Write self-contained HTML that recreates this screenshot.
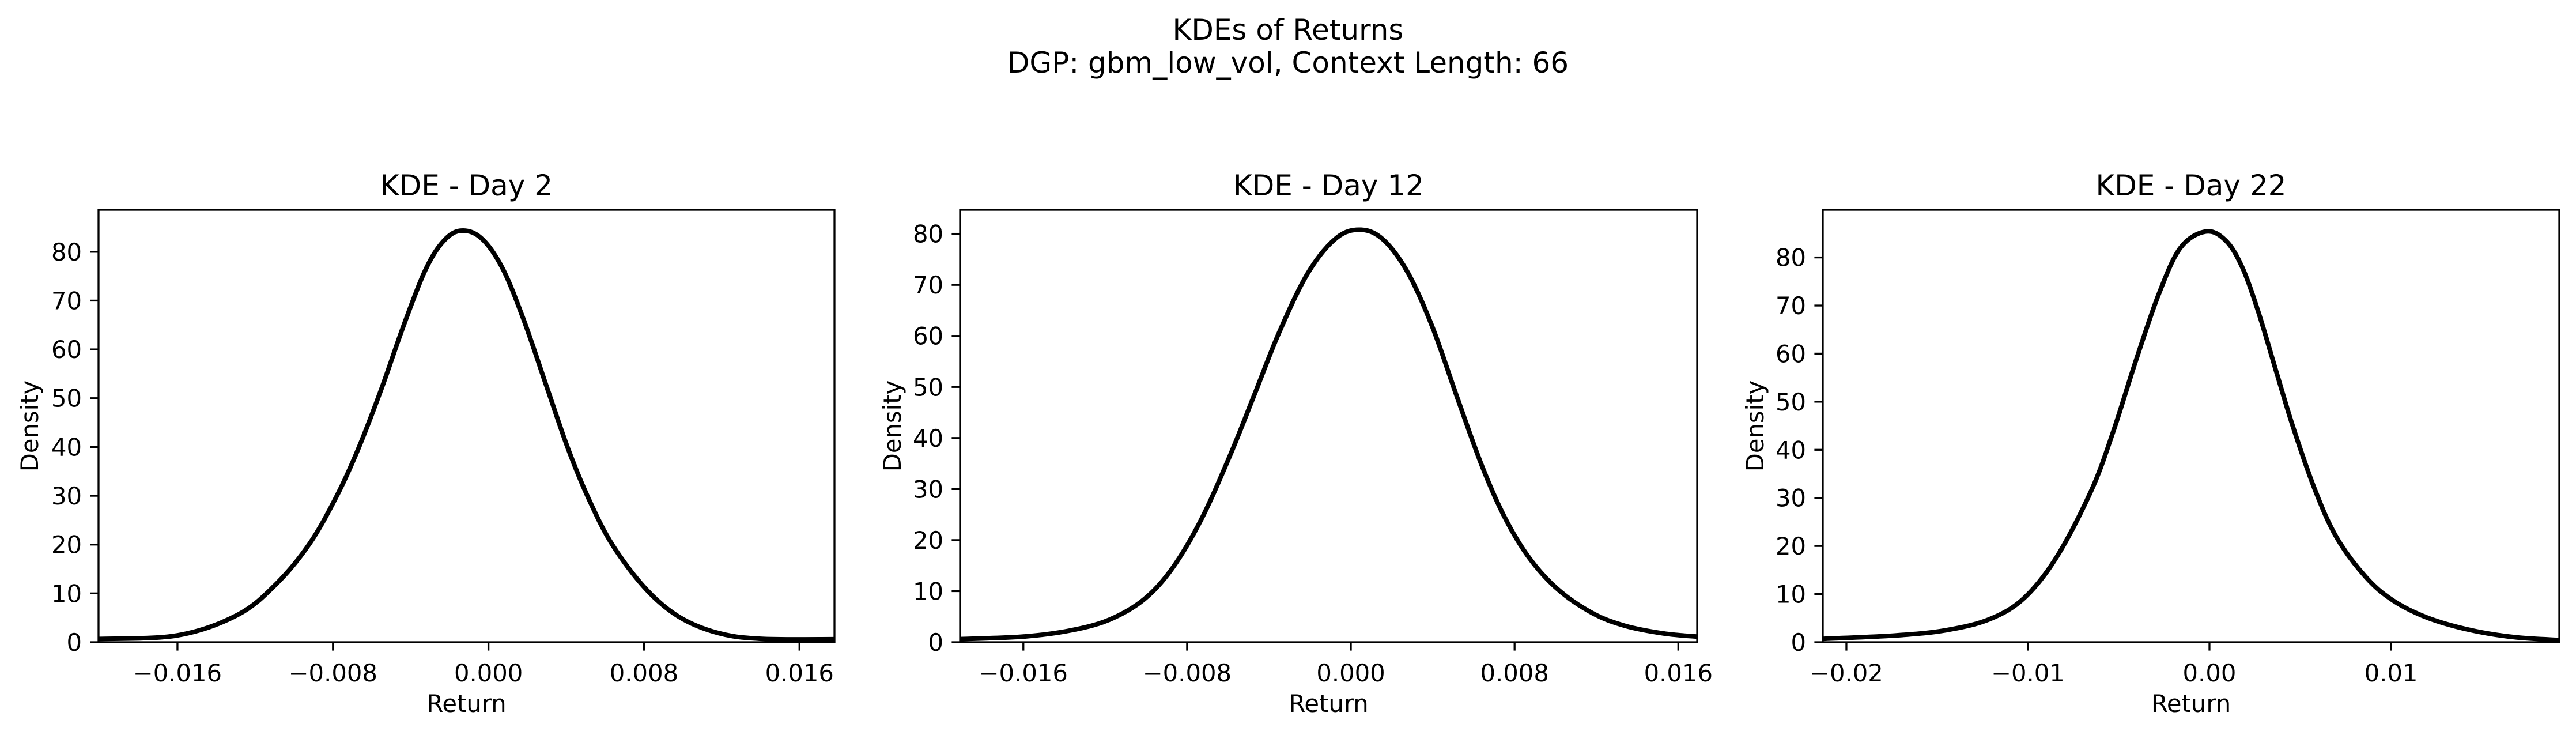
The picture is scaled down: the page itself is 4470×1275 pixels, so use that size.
<!DOCTYPE html>
<html><head><meta charset="utf-8"><style>
html,body{margin:0;padding:0;background:#fff;}
svg{display:block;font-family:"DejaVu Sans","Liberation Sans",sans-serif;}
</style></head><body>
<svg id="fig" width="4470" height="1275" viewBox="0 0 4470 1275" xmlns="http://www.w3.org/2000/svg">
<rect width="4470" height="1275" fill="#fff"/>
<text x="2235" y="69" font-size="50" text-anchor="middle">KDEs of Returns</text>
<text x="2235" y="126" font-size="50" text-anchor="middle">DGP: gbm_low_vol, Context Length: 66</text>
</svg>
<script>
const day2X=[-0.02006,-0.016,-0.0129,-0.0109,-0.0092,-0.0078,-0.0067,-0.0055,-0.0044,-0.0033,-0.0024,-0.00148,-0.0004,0.0007,0.0018,0.003,0.0041,0.0052,0.0064,0.0081,0.0098,0.0118,0.014,0.0178];
const day2Y=[0.66,1.4,5.6,12.0,20.2,30.0,39.6,52,64.5,75.8,81.8,84.3,82.9,76.8,66.2,52.3,39.6,29.0,19.8,10.9,5.2,1.9,0.7,0.6];
const day12X=[-0.0191,-0.016,-0.0137,-0.0118,-0.0101,-0.0087,-0.0073,-0.0059,-0.0047,-0.0035,-0.0021,-0.0007,0.0005,0.0016,0.0028,0.004,0.0052,0.0064,0.0075,0.0087,0.0101,0.0118,0.0134,0.0153,0.0169];
const day12Y=[0.6,1.1,2.3,4.4,8.4,14.6,24.1,36.6,48.6,60.7,72.3,79.2,80.8,78.8,72.3,61.6,47.9,34.6,24.6,16.6,10.4,5.7,3.2,1.7,1.1];
const day22X=[-0.0213,-0.0173,-0.0145,-0.0121,-0.0102,-0.0084,-0.0065,-0.0053,-0.0041,-0.0028,-0.0016,-0.0002,0.0009,0.0018,0.0027,0.0037,0.0046,0.0058,0.007,0.0086,0.0101,0.012,0.0144,0.0169,0.0193];
const day22Y=[0.7,1.4,2.5,4.8,9.2,17.8,31.6,43.8,58,72.3,82.0,85.4,83.5,78.0,68.6,56.0,44.8,31.8,21.8,13.6,8.7,5.1,2.5,1.0,0.45];
const yTicks=[0,10,20,30,40,50,60,70,80];
const xTicks12=[-0.016,-0.008,0,0.008,0.016];
const xTickLabels12=["\u22120.016","\u22120.008","0.000","0.008","0.016"];
const xTicks3=[-0.02,-0.01,0,0.01];
const xTickLabels3=["\u22120.02","\u22120.01","0.00","0.01"];
const titles=["KDE - Day 2","KDE - Day 12","KDE - Day 22"];

const NS="http://www.w3.org/2000/svg";
const svg=document.getElementById('fig');
function mk(tag,attrs,parent){const e=document.createElementNS(NS,tag);for(const k in attrs)e.setAttribute(k,attrs[k]);(parent||svg).appendChild(e);return e;}

const panels=[
 {L:171,R:1448,T:364,B:1114,xmin:-0.02006,xmax:0.0178,ymax:88.6,xs:day2X,ys:day2Y,xt:xTicks12,xl:xTickLabels12,ylx:51},
 {L:1666,R:2945,T:364,B:1114,xmin:-0.01909,xmax:0.01692,ymax:84.7,xs:day12X,ys:day12Y,xt:xTicks12,xl:xTickLabels12,ylx:1548},
 {L:3163,R:4441,T:364,B:1114,xmin:-0.0213,xmax:0.01927,ymax:89.9,xs:day22X,ys:day22Y,xt:xTicks3,xl:xTickLabels3,ylx:3045}
];

panels.forEach((p,i)=>{
  const g=mk('g',{});
  
  
  const sx=v=>p.L+(v-p.xmin)/(p.xmax-p.xmin)*(p.R-p.L);
  const sy=v=>p.B-v/p.ymax*(p.B-p.T);
  const clipId='clip'+i;
  const cp=mk('clipPath',{id:clipId},g);
  mk('rect',{x:p.L,y:p.T,width:p.R-p.L,height:p.B-p.T},cp);
  const pts=p.xs.map((x,k)=>[sx(x),sy(p.ys[k])]);
  let d='M'+pts[0][0]+','+pts[0][1];
  for(let k=0;k<pts.length-1;k++){
    const p0=pts[Math.max(0,k-1)],p1=pts[k],p2=pts[k+1],p3=pts[Math.min(pts.length-1,k+2)];
    const c1=[p1[0]+(p2[0]-p0[0])/6,p1[1]+(p2[1]-p0[1])/6];
    const c2=[p2[0]-(p3[0]-p1[0])/6,p2[1]-(p3[1]-p1[1])/6];
    d+=' C'+c1[0]+','+c1[1]+' '+c2[0]+','+c2[1]+' '+p2[0]+','+p2[1];
  }
  const path=mk('path',{d:d,fill:'none',stroke:'#000','stroke-width':8,'clip-path':'url(#'+clipId+')','stroke-linejoin':'round'},g);
  
  
  const frame=mk('rect',{x:p.L,y:p.T,width:p.R-p.L,height:p.B-p.T,fill:'none',stroke:'#000','stroke-width':3.3},g);
  
  
  yTicks.forEach(t=>{
    if(t>p.ymax)return;
    const y=sy(t);
    mk('line',{x1:p.L-14.6,x2:p.L,y1:y,y2:y,stroke:'#000','stroke-width':3.3},g);
    const tx=mk('text',{x:p.L-29,y:y+15,'font-size':41.7,'text-anchor':'end'},g);
    
    
    tx.textContent=String(t);
  });
  p.xt.forEach((t,k)=>{
    const x=sx(t);
    mk('line',{x1:x,x2:x,y1:p.B,y2:p.B+14.6,stroke:'#000','stroke-width':3.3},g);
    const tx=mk('text',{x:x,y:p.B+68,'font-size':41.7,'text-anchor':'middle'},g);
    
    
    tx.textContent=p.xl[k];
  });
  const ti=mk('text',{x:(p.L+p.R)/2,y:p.T-25,'font-size':50,'text-anchor':'middle'},g);
  
  
  ti.textContent=titles[i];
  const xl=mk('text',{x:(p.L+p.R)/2,y:1235,'font-size':41.7,'text-anchor':'middle'},g);
  
  
  xl.textContent='Return';
  const cy=(p.T+p.B)/2;
  const yl=mk('text',{x:p.ylx+15,y:cy,'font-size':41.7,'text-anchor':'middle',transform:'rotate(-90 '+(p.ylx+15)+' '+cy+')'},g);
  
  
  yl.textContent='Density';
});
</script>
</body></html>
